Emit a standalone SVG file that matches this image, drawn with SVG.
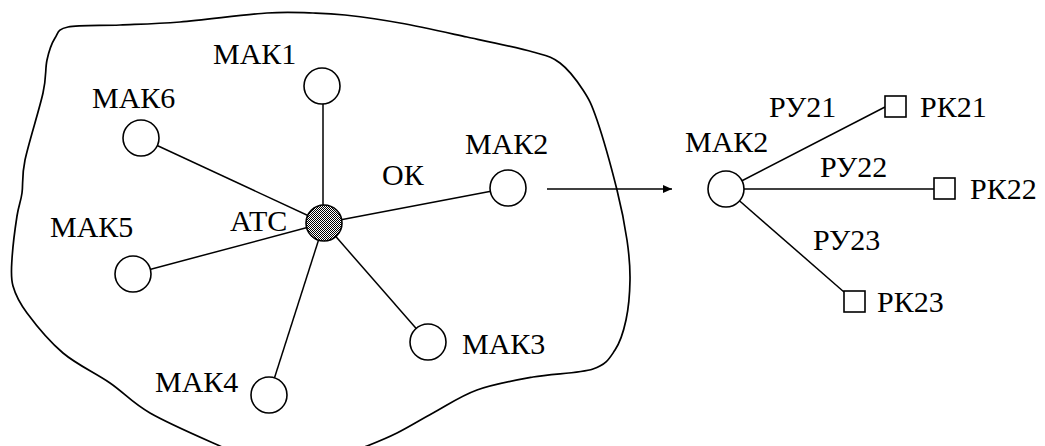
<svg xmlns="http://www.w3.org/2000/svg" width="1045" height="446" viewBox="0 0 1045 446">
<style>
text{font-family:"Liberation Serif","Times New Roman",serif;font-size:30px;fill:#000}
.node{fill:#fff;stroke:#000;stroke-width:1.6}
.link{stroke:#000;stroke-width:1.5;fill:none}
.blob{fill:none;stroke:#000;stroke-width:1.7}
</style>
<defs>
<pattern id="dots" width="2" height="2" patternUnits="userSpaceOnUse">
<rect width="2" height="2" fill="#fff"/>
<rect width="1" height="1" fill="#000"/>
<rect x="1" y="1" width="1" height="1" fill="#000"/>
</pattern>
<marker id="arr" markerUnits="userSpaceOnUse" markerWidth="10" markerHeight="8" refX="9" refY="4" orient="auto">
<path d="M0,0 L9,4 L0,8 Z" fill="#000"/>
</marker>
</defs>
<rect width="1045" height="446" fill="#fff"/>
<path class="blob" d="M68,27 C78.8,24.8 101.3,25.8 120,25 S155.5,24 180,22 S244.8,14.5 267,13 S300,12.7 313,13 S330.5,13.3 345,15 S379.7,19.3 400,23 S444.8,32.2 467,37 S517.5,47.7 533,52 S551.7,56.7 560,63 S576.8,80.5 583,90 S591.3,103.3 597,120 S612,170 617,190 S624.8,225 627,240 S630.2,266.7 630,280 S628.5,308.3 626,320 S620.5,341.8 615,350 S606.7,364.5 593,369 S552.3,373.5 533,377 S493.7,384 477,390 S446.3,405.8 433,413 S408,427.5 397,433 S384.8,439 367,446 S314.5,475 290,475 S243.3,456.3 220,446 S168.3,423.5 150,413 S124.5,393 110,383 S76.8,364.7 63,353 S35.3,324.2 27,313 S15.5,295 13,286 S11.3,270.7 12,259 S15.3,227 17,216 S20.7,202.3 22,193 S21.5,176.7 25,160 S39.3,109.7 43,93 S45,69.2 47,60 S51.5,43.5 55,38 S57.2,29.2 68,27 Z"/>
<g id="connectors">
<line class="link" x1="323" y1="223" x2="323" y2="86"/>
<line class="link" x1="324" y1="223" x2="141" y2="138"/>
<line class="link" x1="324" y1="223" x2="508" y2="188"/>
<line class="link" x1="324" y1="223" x2="133" y2="274"/>
<line class="link" x1="324" y1="223" x2="269" y2="395"/>
<line class="link" x1="324" y1="223" x2="428" y2="342"/>
<line class="link" x1="547" y1="189" x2="672" y2="189" marker-end="url(#arr)"/>
<line class="link" x1="726" y1="189" x2="885" y2="107"/>
<line class="link" x1="726" y1="189" x2="934" y2="189"/>
<line class="link" x1="726" y1="189" x2="844" y2="292"/>
</g>
<g id="atc"><circle cx="324" cy="223" r="18" fill="url(#dots)" stroke="#000" stroke-width="1.6"/><text x="230" y="231">АТС</text></g>
<text x="382" y="185">ОК</text>
<g id="mak1"><circle class="node" cx="322" cy="86" r="18"/><text x="213" y="64">МАК1</text></g>
<g id="mak6"><circle class="node" cx="141" cy="138" r="18"/><text x="92" y="108">МАК6</text></g>
<g id="mak2"><circle class="node" cx="508" cy="188" r="18"/><text x="465" y="154">МАК2</text></g>
<g id="mak5"><circle class="node" cx="133" cy="274" r="18"/><text x="50" y="237">МАК5</text></g>
<g id="mak4"><circle class="node" cx="269" cy="395" r="18"/><text x="155" y="392">МАК4</text></g>
<g id="mak3"><circle class="node" cx="428" cy="342" r="18"/><text x="462" y="354">МАК3</text></g>
<g id="mak2b"><circle class="node" cx="726" cy="189" r="18"/><text x="685" y="152">МАК2</text></g>
<text x="769" y="117">РУ21</text>
<text x="820" y="177">РУ22</text>
<text x="813" y="250">РУ23</text>
<g id="rk21"><rect class="node" x="885" y="96" width="21" height="21"/><text x="920" y="117">РК21</text></g>
<g id="rk22"><rect class="node" x="934" y="178" width="21" height="21"/><text x="970" y="199">РК22</text></g>
<g id="rk23"><rect class="node" x="844" y="291" width="21" height="21"/><text x="877" y="312">РК23</text></g>
</svg>
